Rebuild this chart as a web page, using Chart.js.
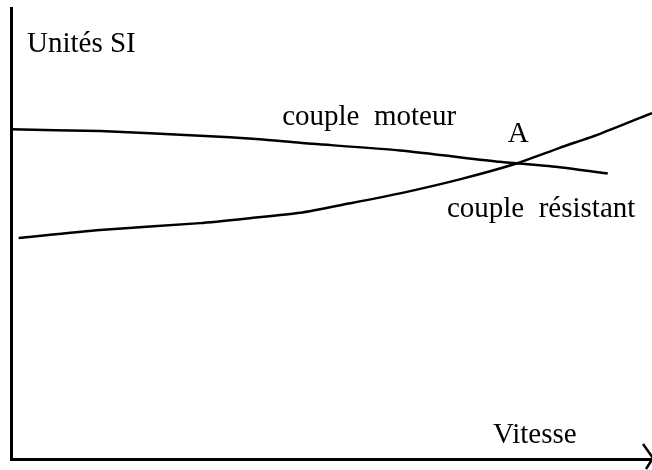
<!DOCTYPE html>
<html>
<head>
<meta charset="utf-8">
<script src="https://cdn.jsdelivr.net/npm/chart.js@4/dist/chart.umd.min.js"></script>
<style>
  html, body { margin: 0; padding: 0; background: #fff; }
  #wrap { width: 652px; height: 470px; }
</style>
</head>
<body>
<div id="wrap"><canvas id="chart"></canvas></div>
<script>
// ───── Data (arbitrary units: no ticks on the original) ─────
const vitesseMoteur = [0, 13.9, 29.5, 38.8, 45.1, 60.7, 76.3, 85.6, 93.1];
const coupleMoteur  = [73.1, 72.7, 71.7, 70.9, 70.1, 68.4, 65.9, 64.7, 63.3];

const vitesseResistant = [1.2, 13.9, 29.5, 37.3, 45.1, 52.9, 60.7, 70.0, 78.6, 85.6, 91.9, 100];
const coupleResistant  = [49.0, 50.8, 52.3, 53.4, 54.6, 56.7, 58.9, 62.0, 65.4, 69.0, 72.1, 76.7];

const axisLabelY = 'Unités SI';
const axisLabelX = 'Vitesse';
const curveLabels = ['couple  moteur', 'couple  résistant'];
const pointLabel = 'A';

const toPoints = (xs, ys) => xs.map((x, i) => ({ x, y: ys[i] }));

// Text annotations, anchored in data units (left edge, baseline).
const annotations = [
  { text: axisLabelY, x: 2.5, y: 90.2 },
  { text: curveLabels[0], x: 42.3, y: 74.1 },
  { text: pointLabel, x: 77.5, y: 70.3 },
  { text: curveLabels[1], x: 68.0, y: 53.7 },
  { text: axisLabelX, x: 75.2, y: 3.5 },
];

const FONT = '29px "Liberation Serif", "DejaVu Serif", serif';

// Draws the text labels and the arrow head at the end of the x axis.
const sketchPlugin = {
  id: 'sketch',
  afterDraw(chart) {
    const { ctx, chartArea, scales } = chart;
    ctx.save();
    ctx.fillStyle = '#000';
    ctx.font = FONT;
    ctx.textAlign = 'left';
    ctx.textBaseline = 'alphabetic';
    annotations.forEach((a) => {
      ctx.fillText(a.text, scales.x.getPixelForValue(a.x), scales.y.getPixelForValue(a.y));
    });

    // arrow head
    const ax = chartArea.right;
    const ay = chartArea.bottom;
    ctx.strokeStyle = '#000';
    ctx.lineWidth = 2.5;
    ctx.beginPath();
    ctx.moveTo(ax - 9, ay - 15);
    ctx.lineTo(ax + 1, ay - 1);
    ctx.lineTo(ax - 6, ay + 10);
    ctx.stroke();
    ctx.restore();
  },
};

const lineStyle = {
  borderColor: '#000',
  backgroundColor: '#000',
  borderWidth: 2.5,
  pointRadius: 0,
  fill: false,
  tension: 0.2,
};

new Chart(document.getElementById('chart'), {
  type: 'scatter',
  data: {
    datasets: [
      { label: 'couple moteur', data: toPoints(vitesseMoteur, coupleMoteur), showLine: true, ...lineStyle },
      { label: 'couple résistant', data: toPoints(vitesseResistant, coupleResistant), showLine: true, ...lineStyle },
    ],
  },
  options: {
    responsive: true,
    maintainAspectRatio: false,
    animation: false,
    layout: { padding: { left: 11, top: 8, right: 0, bottom: 11 } },
    plugins: {
      legend: { display: false },
      tooltip: { enabled: false },
    },
    scales: {
      x: {
        type: 'linear',
        min: 0,
        max: 100,
        ticks: { display: false },
        grid: { display: false, drawTicks: false },
        border: { display: true, color: '#000', width: 3 },
      },
      y: {
        type: 'linear',
        min: 0,
        max: 100,
        ticks: { display: false },
        grid: { display: false, drawTicks: false },
        border: { display: true, color: '#000', width: 3 },
      },
    },
  },
  plugins: [sketchPlugin],
});
</script>
</body>
</html>
